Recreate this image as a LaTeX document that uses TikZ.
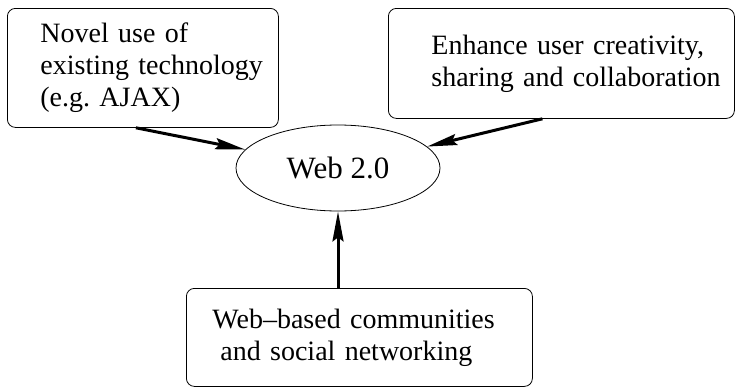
\documentclass[tikz,border=0pt]{standalone}
\usepackage{fontspec}
\setmainfont{Liberation Serif}
\usetikzlibrary{shapes.geometric,arrows.meta}

\begin{document}
\frenchspacing
\begin{tikzpicture}[
    x=1pt, y=-1pt,
    box/.style={rectangle, draw, line width=0.8pt, rounded corners=8pt, anchor=north west, align=left, inner ysep=4pt, font=\fontsize{28}{32}\selectfont},
    pad/.style={execute at begin node={\leftskip=#1}},
    hub/.style={ellipse, draw, line width=0.8pt, minimum width=204pt, minimum height=86pt, inner sep=0pt, font=\fontsize{31}{34}\selectfont},
    arrow/.style={line width=3pt, -{Stealth[length=30pt, width=11pt, inset=4pt]}}
]
\useasboundingbox (0,0) rectangle (735,388);

% Centre
\node[hub] (web) at (338,168) {Web 2.0};

% Existing technology
\node[box, inner xsep=10pt, text width=251pt, minimum height=119pt, pad=23pt] (novel) at (7,8) {Novel use of\\existing technology\\(e.g. AJAX)};

% Creativity and sharing
\node[box, inner xsep=8pt, text width=330pt, minimum height=110pt, pad=35pt] (enhance) at (388,8) {Enhance user creativity,\\sharing and collaboration};

% Communities
\node[box, inner xsep=12pt, text width=322pt, minimum height=98pt, pad=14pt] (community) at (186,288) {Web–based communities\\\hspace*{8pt}and social networking};

\draw[arrow] ([xshift=-7pt]novel.south) -- (web);
\draw[arrow] ([xshift=-19pt]enhance.south) -- (web);
\draw[arrow] (community.north -| web) -- (web.south);

\end{tikzpicture}
\end{document}
